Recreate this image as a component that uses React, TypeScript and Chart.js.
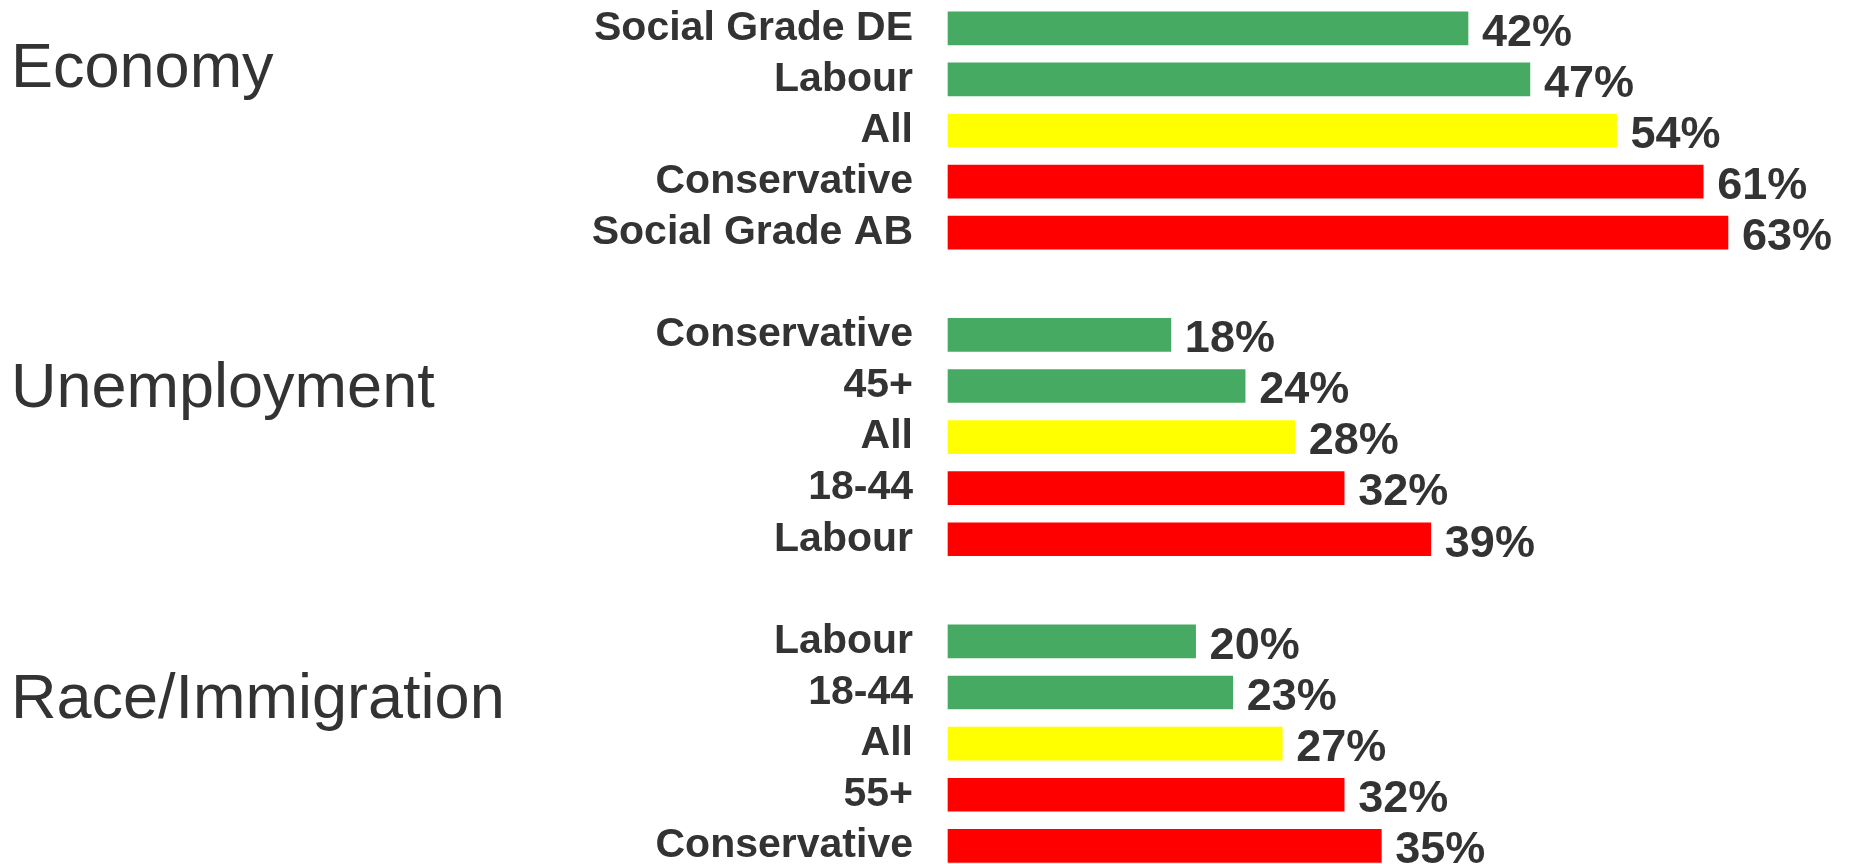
import React, { useEffect, useRef } from 'react';
import { Chart, registerables } from 'chart.js';

Chart.register(...registerables);

// ---- Data ----
const groupTitles = ['Economy', 'Unemployment', 'Race/Immigration'];

const economyLabels = ['Social Grade DE', 'Labour', 'All', 'Conservative', 'Social Grade AB'];
const economyValues = [42, 47, 54, 61, 63];

const unemploymentLabels = ['Conservative', '45+', 'All', '18-44', 'Labour'];
const unemploymentValues = [18, 24, 28, 32, 39];

const raceLabels = ['Labour', '18-44', 'All', '55+', 'Conservative'];
const raceValues = [20, 23, 27, 32, 35];

// ---- Styles ----
const ROW_COLORS = ['#46AA63', '#46AA63', '#FFFF00', '#FF0000', '#FF0000'];
const TEXT_COLOR = '#333333';
const FONT_FAMILY = "'Liberation Sans', Arial, Helvetica, sans-serif";
const TITLE_BASELINES = [86.7, 406.7, 718.3];

const groupsLabels = [economyLabels, unemploymentLabels, raceLabels];
const groupsValues = [economyValues, unemploymentValues, raceValues];

const allLabels: string[] = [];
const allValues: (number | null)[] = [];
const allColors: string[] = [];
groupsLabels.forEach((labels, g) => {
  if (g > 0) {
    allLabels.push('');
    allValues.push(null);
    allColors.push('rgba(0,0,0,0)');
  }
  labels.forEach((l, i) => {
    allLabels.push(l);
    allValues.push(groupsValues[g][i]);
    allColors.push(ROW_COLORS[i]);
  });
});

const valueLabelPlugin = {
  id: 'valueLabels',
  afterDatasetsDraw(chart: any) {
    const ctx = chart.ctx;
    const meta = chart.getDatasetMeta(0);
    const data = chart.data.datasets[0].data;
    ctx.save();
    ctx.fillStyle = TEXT_COLOR;
    ctx.font = `bold 45px ${FONT_FAMILY}`;
    ctx.textAlign = 'left';
    ctx.textBaseline = 'alphabetic';
    meta.data.forEach((el: any, i: number) => {
      const v = data[i];
      if (v === null || v === undefined) return;
      ctx.fillText(`${v}%`, el.x + 14, el.y + 17.3);
    });
    ctx.restore();
  },
};

const titlePlugin = {
  id: 'groupTitles',
  afterDraw(chart: any) {
    const ctx = chart.ctx;
    ctx.save();
    ctx.fillStyle = TEXT_COLOR;
    ctx.font = `normal 63px ${FONT_FAMILY}`;
    ctx.textAlign = 'left';
    ctx.textBaseline = 'alphabetic';
    groupTitles.forEach((t, i) => {
      ctx.fillText(t, 11, TITLE_BASELINES[i]);
    });
    ctx.restore();
  },
};

export default function App() {
  const canvasRef = useRef<HTMLCanvasElement | null>(null);

  useEffect(() => {
    if (!canvasRef.current) return;
    const chart = new Chart(canvasRef.current, {
      type: 'bar',
      data: {
        labels: allLabels,
        datasets: [
          {
            data: allValues as any,
            backgroundColor: allColors,
            borderWidth: 0,
            barThickness: 33,
            clip: false as any,
          },
        ],
      },
      options: {
        indexAxis: 'y',
        responsive: false,
        devicePixelRatio: 1,
        animation: false,
        layout: {
          padding: { left: 0, right: 10.6, top: 28.3, bottom: 18.2 },
        },
        plugins: {
          legend: { display: false },
          tooltip: { enabled: false },
        },
        scales: {
          x: {
            display: false,
            min: 0,
            max: 72,
          },
          y: {
            type: 'category',
            offset: false,
            grid: { display: false, drawTicks: false },
            border: { display: false },
            ticks: {
              autoSkip: false,
              padding: 35,
              color: TEXT_COLOR,
              font: { family: FONT_FAMILY, size: 41, weight: 'bold' },
            },
            afterFit: (scale: any) => {
              scale.width = 948;
              scale.paddingTop = 0;
              scale.paddingBottom = 0;
            },
          },
        },
      },
      plugins: [valueLabelPlugin, titlePlugin],
    });
    return () => chart.destroy();
  }, []);

  return (
    <div style={{ position: 'fixed', left: 0, top: 0, width: 1850, height: 864, background: '#ffffff' }}>
      <canvas ref={canvasRef} width={1850} height={864} style={{ display: 'block' }} />
    </div>
  );
}
